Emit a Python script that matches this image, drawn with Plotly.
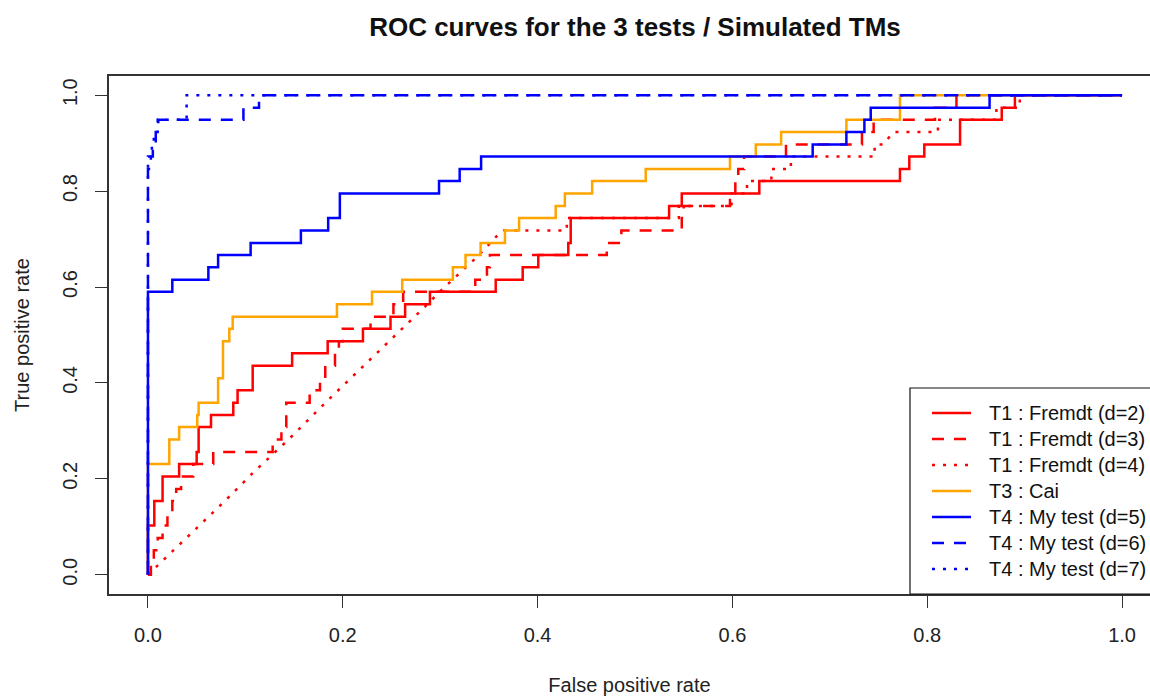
import plotly.graph_objects as go

# ---------------- data ----------------
# T1 : Fremdt (d=2)  -- step curve (hv)
t1_d2_fpr = [0, 0, 0.0065, 0.015, 0.032, 0.05, 0.052, 0.0647, 0.0876, 0.092, 0.1075, 0.148, 0.1845,
             0.2207, 0.249, 0.264, 0.2895, 0.357, 0.3847, 0.4007, 0.4315, 0.434, 0.535, 0.548, 0.6276,
             0.772, 0.7816, 0.797, 0.8337, 0.8765, 0.89, 1.0]
t1_d2_tpr = [0, 0.103, 0.154, 0.205, 0.231, 0.256, 0.308, 0.333, 0.359, 0.385, 0.436, 0.462, 0.487,
             0.513, 0.538, 0.564, 0.590, 0.615, 0.641, 0.667, 0.692, 0.744, 0.769, 0.795, 0.821,
             0.846, 0.872, 0.897, 0.949, 0.974, 1.0, 1.0]

# T1 : Fremdt (d=3)  -- step curve (hv)
t1_d3_fpr = [0, 0.003, 0.006, 0.010, 0.015, 0.020, 0.025, 0.029, 0.034, 0.0465, 0.067, 0.128, 0.137,
             0.142, 0.166, 0.1766, 0.182, 0.192, 0.196, 0.200, 0.2285, 0.252, 0.262, 0.336, 0.348,
             0.351, 0.471, 0.486, 0.548, 0.550, 0.5975, 0.603, 0.606, 0.612, 0.655, 0.733, 0.745,
             0.808, 0.83, 1.0]
t1_d3_tpr = [0, 0.026, 0.051, 0.077, 0.103, 0.128, 0.154, 0.179, 0.205, 0.231, 0.256, 0.282, 0.308,
             0.359, 0.385, 0.410, 0.436, 0.462, 0.487, 0.513, 0.538, 0.564, 0.590, 0.615, 0.641,
             0.667, 0.692, 0.718, 0.744, 0.769, 0.795, 0.821, 0.846, 0.872, 0.897, 0.923, 0.949,
             0.974, 1.0, 1.0]

# T1 : Fremdt (d=4)  -- polyline vertices
t1_d4_fpr = [0, 0.0123, 0.041, 0.079, 0.108, 0.1458, 0.185, 0.2238, 0.262, 0.2816, 0.3015, 0.339,
             0.3607, 0.365, 0.43, 0.43, 0.545, 0.545, 0.599, 0.599, 0.615, 0.615, 0.64, 0.64, 0.66,
             0.66, 0.746, 0.746, 0.755, 0.765, 0.811, 0.811, 0.871, 0.871, 0.895, 0.895, 1.0]
t1_d4_tpr = [0, 0.024, 0.0785, 0.154, 0.213, 0.285, 0.3646, 0.44, 0.514, 0.5535, 0.594, 0.665,
             0.712, 0.718, 0.718, 0.744, 0.744, 0.769, 0.769, 0.795, 0.795, 0.821, 0.821, 0.846, 0.846,
             0.872, 0.872, 0.897, 0.897, 0.923, 0.923, 0.949, 0.949, 0.974, 0.974, 1.0, 1.0]

# T3 : Cai  -- step curve (hv)
t3_fpr = [0, 0, 0.0219, 0.032, 0.0506, 0.052, 0.072, 0.077, 0.0835, 0.087, 0.194, 0.23, 0.261, 0.313,
          0.326, 0.3415, 0.3665, 0.381, 0.4186, 0.428, 0.456, 0.511, 0.5975, 0.624, 0.65, 0.717,
          0.772, 1.0]
t3_tpr = [0, 0.231, 0.282, 0.308, 0.333, 0.359, 0.410, 0.487, 0.513, 0.538, 0.564, 0.590, 0.615, 0.641,
          0.667, 0.692, 0.718, 0.744, 0.769, 0.795, 0.821, 0.846, 0.872, 0.897, 0.923, 0.949,
          1.0, 1.0]

# T4 : My test (d=5)  -- step curve (hv)
t4_d5_fpr = [0, 0, 0.025, 0.062, 0.072, 0.1054, 0.157, 0.185, 0.197, 0.2988, 0.32, 0.342, 0.6824,
             0.717, 0.7355, 0.742, 0.864, 1.0]
t4_d5_tpr = [0, 0.590, 0.615, 0.641, 0.667, 0.692, 0.718, 0.744, 0.795, 0.821, 0.846, 0.872, 0.897,
             0.923, 0.949, 0.974, 1.0, 1.0]

# T4 : My test (d=6)  -- step curve (hv)
t4_d6_fpr = [0, 0, 0.003, 0.005, 0.008, 0.0106, 0.098, 0.114, 1.0]
t4_d6_tpr = [0, 0.846, 0.872, 0.897, 0.923, 0.949, 0.974, 1.0, 1.0]

# T4 : My test (d=7)  -- step curve (hv)
t4_d7_fpr = [0, 0, 0.004, 0.006, 0.010, 0.0397, 1.0]
t4_d7_tpr = [0, 0.872, 0.897, 0.923, 0.949, 1.0, 1.0]

series_names = ["T1 : Fremdt (d=2)", "T1 : Fremdt (d=3)", "T1 : Fremdt (d=4)", "T3 : Cai",
                "T4 : My test (d=5)", "T4 : My test (d=6)", "T4 : My test (d=7)"]

tick_vals = [0.0, 0.2, 0.4, 0.6, 0.8, 1.0]
tick_text = ["0.0", "0.2", "0.4", "0.6", "0.8", "1.0"]

# ---------------- styling ----------------
RED, ORANGE, BLUE = "#FF0000", "#FFA500", "#0000FF"
DASH = "12px,10px"
DOT = "3px,8px"
FONT = "Liberation Sans, Arial, sans-serif"

specs = [
    (t1_d2_fpr, t1_d2_tpr, RED, "solid", "hv"),
    (t1_d3_fpr, t1_d3_tpr, RED, DASH, "hv"),
    (t1_d4_fpr, t1_d4_tpr, RED, DOT, "linear"),
    (t3_fpr, t3_tpr, ORANGE, "solid", "hv"),
    (t4_d5_fpr, t4_d5_tpr, BLUE, "solid", "hv"),
    (t4_d6_fpr, t4_d6_tpr, BLUE, DASH, "hv"),
    (t4_d7_fpr, t4_d7_tpr, BLUE, DOT, "hv"),
]

W, H = 1150, 696
L, R, T, B = 109, 0, 76, 102
PW, PH = W - L - R, H - T - B


def px_x(px):
    return (px - L) / PW


def px_y(py):
    return (H - B - py) / PH


fig = go.Figure()
for i, (name, (xs, ys, col, dash, shape)) in enumerate(zip(series_names, specs)):
    fig.add_trace(go.Scatter(
        x=xs, y=ys, mode="lines", name=name, showlegend=False,
        line=dict(color=col, width=2.5, dash=dash, shape=shape),
        hoverinfo="skip",
    ))

# ---- legend drawn R-style (box, line samples, labels) ----
shapes = [dict(type="rect", xref="paper", yref="paper", layer="above",
               x0=px_x(910), x1=px_x(1175), y0=px_y(594), y1=px_y(388),
               line=dict(color="#111111", width=1.2), fillcolor="white")]
annotations = []
for i, (name, (xs, ys, col, dash, shape)) in enumerate(zip(series_names, specs)):
    row_y = px_y(413 + 26 * i)
    shapes.append(dict(type="line", xref="paper", yref="paper", layer="above",
                       x0=px_x(932), x1=px_x(971), y0=row_y, y1=row_y,
                       line=dict(color=col, width=2.5, dash=dash)))
    annotations.append(dict(xref="paper", yref="paper", x=px_x(987), y=row_y,
                            xanchor="left", yanchor="middle", showarrow=False,
                            text=name, font=dict(family=FONT, size=20, color="#111111")))

axis_common = dict(
    showgrid=False, zeroline=False, showline=True, mirror=True,
    linecolor="#333333", linewidth=1.5,
    ticks="outside", ticklen=12, tickwidth=1.2, tickcolor="#333333",
    tickvals=tick_vals, ticktext=tick_text,
    tickfont=dict(family=FONT, size=20, color="#222222"),
)

fig.update_layout(
    width=W, height=H,
    margin=dict(l=L, r=R, t=T, b=B, autoexpand=False),
    paper_bgcolor="white", plot_bgcolor="white",
    font=dict(family=FONT, color="#222222"),
    title=dict(
        text="<b>ROC curves for the 3 tests / Simulated TMs</b>",
        font=dict(family=FONT, size=26, color="#111111"),
        xref="paper", x=px_x(635), xanchor="center",
        yref="container", y=1 - 27 / H, yanchor="middle",
    ),
    xaxis=dict(
        range=[-0.04, 1.0287], ticklabelstandoff=10,
        title=dict(text="False positive rate", standoff=36,
                   font=dict(family=FONT, size=20, color="#222222")),
        **axis_common,
    ),
    yaxis=dict(
        range=[-0.04, 1.04], tickangle=-90, ticklabelstandoff=10,
        title=dict(text="True positive rate", standoff=24,
                   font=dict(family=FONT, size=20, color="#222222")),
        **axis_common,
    ),
    showlegend=False,
    shapes=shapes,
    annotations=annotations,
)

fig.write_html(
    "out.html",
    config={"displayModeBar": False},
    post_script="document.body.style.margin='0';document.body.style.overflow='hidden';"
                "document.documentElement.style.overflow='hidden';",
)
